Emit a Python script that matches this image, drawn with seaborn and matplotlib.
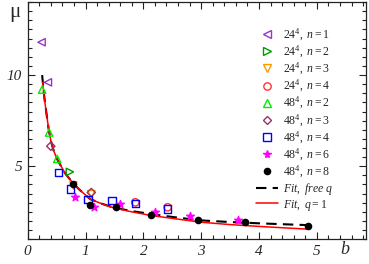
import numpy as np
import seaborn as sns
import matplotlib.pyplot as plt
from matplotlib.lines import Line2D
from matplotlib.ticker import MultipleLocator

# dados
b_24_n1 = [0.24, 0.35]
mu_24_n1 = [11.8, 9.6]
b_24_n2 = [0.73]
mu_24_n2 = [4.69]
b_24_n3 = [0.79, 1.10]
mu_24_n3 = [3.95, 3.47]
b_24_n4 = [1.86, 2.42]
mu_24_n4 = [3.02, 2.75]
b_48_n2 = [0.25, 0.37, 0.51]
mu_48_n2 = [9.2, 6.85, 5.4]
b_48_n3 = [0.40, 1.10]
mu_48_n3 = [6.1, 3.56]
b_48_n4 = [0.53, 0.74, 1.04, 1.46, 1.86, 2.42]
mu_48_n4 = [4.64, 3.76, 3.17, 3.11, 2.97, 2.66]
b_48_n6 = [0.81, 1.14, 1.59, 2.20, 2.81, 3.63]
mu_48_n6 = [3.33, 2.76, 2.93, 2.50, 2.28, 2.03]
b_48_n8 = [0.78, 1.08, 1.52, 2.13, 2.95, 3.76, 4.85]
mu_48_n8 = [4.0, 2.88, 2.76, 2.35, 2.03, 1.92, 1.70]

# curvas de ajuste (pontos lidos ao longo das curvas)
b_fit_free = [0.25, 0.28, 0.32, 0.36, 0.40, 0.45, 0.50, 0.56, 0.65, 0.79, 0.90, 1.08,
              1.25, 1.42, 1.54, 1.80, 2.13, 2.50, 3.00, 3.50, 4.00, 4.50, 4.85]
mu_fit_free = [10.0, 9.0, 8.0, 7.1, 6.4, 5.85, 5.45, 5.1, 4.6, 4.05, 3.7, 3.2,
               2.98, 2.8, 2.70, 2.54, 2.38, 2.22, 2.03, 1.94, 1.87, 1.81, 1.77]
b_fit_q1 = [0.26, 0.28, 0.32, 0.36, 0.40, 0.45, 0.50, 0.56, 0.65, 0.79, 0.90, 1.08,
            1.25, 1.42, 1.54, 1.80, 2.13, 2.50, 3.00, 3.50, 4.00, 4.50, 4.85]
mu_fit_q1 = [9.6, 8.9, 8.0, 7.1, 6.4, 5.85, 5.45, 5.1, 4.6, 4.05, 3.7, 3.2,
             2.98, 2.78, 2.68, 2.5, 2.3, 2.14, 1.93, 1.80, 1.70, 1.61, 1.55]

sns.set_style("ticks")
plt.rcParams['mathtext.fontset'] = 'custom'
plt.rcParams['mathtext.it'] = 'Liberation Serif:italic'
plt.rcParams['mathtext.rm'] = 'Liberation Serif'

fig, ax = plt.subplots(figsize=(3.69, 2.64), dpi=100)
fig.subplots_adjust(left=0.075, right=0.992, top=0.992, bottom=0.094)

# curvas
sns.lineplot(x=b_fit_free, y=mu_fit_free, sort=False, estimator=None, color='black',
             linewidth=1.5, ax=ax).lines[-1].set_dashes((5, 3))
sns.lineplot(x=b_fit_q1, y=mu_fit_q1, sort=False, estimator=None, color='red',
             linewidth=1.1, ax=ax)

# series (marcador, cor, preenchido)
series = [
    (b_24_n1, mu_24_n1, '<', '#9933cc', False, r'$\mathit{24^4,\ n{=}1}$'),
    (b_24_n2, mu_24_n2, '>', '#009900', False, r'$\mathit{24^4,\ n{=}2}$'),
    (b_24_n3, mu_24_n3, 'v', '#ff9900', False, r'$\mathit{24^4,\ n{=}3}$'),
    (b_24_n4, mu_24_n4, 'o', '#ff3333', False, r'$\mathit{24^4,\ n{=}4}$'),
    (b_48_n2, mu_48_n2, '^', '#00ee00', False, r'$\mathit{48^4,\ n{=}2}$'),
    (b_48_n3, mu_48_n3, 'D', '#993366', False, r'$\mathit{48^4,\ n{=}3}$'),
    (b_48_n4, mu_48_n4, 's', '#0000ff', False, r'$\mathit{48^4,\ n{=}4}$'),
    (b_48_n6, mu_48_n6, '*', '#ff00ff', True, r'$\mathit{48^4,\ n{=}6}$'),
    (b_48_n8, mu_48_n8, 'o', '#000000', True, r'$\mathit{48^4,\ n{=}8}$'),
]

sizes = {'D': 18, '*': 34}
handles = []
for bx, my, mk, col, filled, lab in series:
    size = sizes.get(mk, 28)
    if filled and mk == 'o':
        size = 20
    sns.scatterplot(x=bx, y=my, marker=mk, s=size, facecolor=col if filled else 'none',
                    edgecolor=col, linewidth=1.0, ax=ax, zorder=3)
    handles.append(Line2D([], [], linestyle='none', marker=mk, markersize=np.sqrt(size),
                          markerfacecolor=col if filled else 'none', markeredgecolor=col,
                          markeredgewidth=1.0, label=lab))
handles.append(Line2D([], [], color='black', linewidth=1.5, dashes=(5, 3),
                      label=r'$\mathit{Fit,\ free\ q}$'))
handles.append(Line2D([], [], color='red', linewidth=1.1, label=r'$\mathit{Fit,\ q{=}1}$'))

ax.legend(handles=handles, loc='upper left', bbox_to_anchor=(256 / 369, 1 - 27 / 264),
          bbox_transform=fig.transFigure, frameon=False, fontsize=8.5, borderpad=0,
          borderaxespad=0, handlelength=1.9, handletextpad=0.35, labelspacing=0.08)

ax.set_xlim(0, 5.85)
ax.set_ylim(1, 14)
ax.xaxis.set_major_locator(MultipleLocator(1))
ax.xaxis.set_minor_locator(MultipleLocator(0.2))
ax.yaxis.set_major_locator(MultipleLocator(5))
ax.yaxis.set_minor_locator(MultipleLocator(0.5))
ax.tick_params(which='both', direction='in', top=True, right=True, width=0.8, color='#222222')
ax.tick_params(which='major', length=5, pad=4, labelsize=11)
ax.tick_params(which='minor', length=3)
for lbl in ax.get_xticklabels() + ax.get_yticklabels():
    lbl.set_fontfamily('Liberation Serif')
    lbl.set_fontstyle('italic')
for sp in ax.spines.values():
    sp.set_linewidth(0.9)
    sp.set_color('#222222')

fig.text(15 / 369, 1 - 12 / 264, 'μ', fontsize=15, fontfamily='Liberation Serif',
         ha='center', va='center')
fig.text(345 / 369, 1 - 250 / 264, 'b', fontsize=13, fontfamily='Liberation Serif',
         fontstyle='italic', ha='center', va='center')

fig.savefig('out.png', dpi=100)
